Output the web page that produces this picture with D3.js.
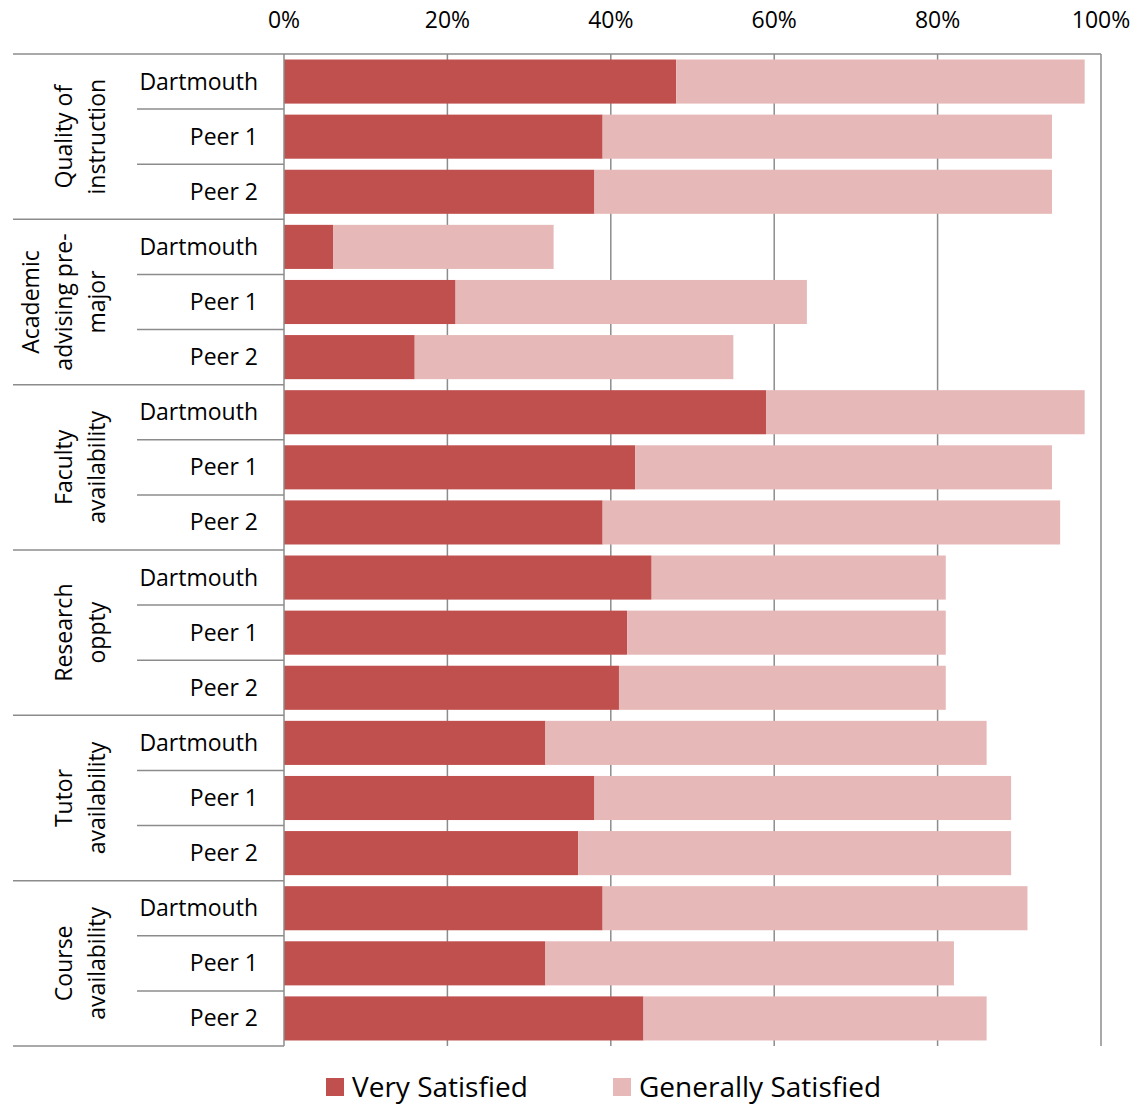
<!DOCTYPE html>
<html><head><meta charset="utf-8">
<script src="https://cdn.jsdelivr.net/npm/d3@7"></script>
<style>body{margin:0;background:#fff}svg{display:block}text{font-family:"Open Sans",sans-serif;fill:#000}</style>
</head><body>
<svg id="c" width="1145" height="1104"></svg>
<script>
const groups = [
  ["Quality of","instruction"],
  ["Academic","advising pre-","major"],
  ["Faculty","availability"],
  ["Research","oppty"],
  ["Tutor","availability"],
  ["Course","availability"]
];
const items = ["Dartmouth","Peer 1","Peer 2"];
const verySatisfied = [48,39,38, 6,21,16, 59,43,39, 45,42,41, 32,38,36, 39,32,44];
const totalSatisfied = [98,94,94, 33,64,55, 98,94,95, 81,81,81, 86,89,89, 91,82,86];
const generallySatisfied = totalSatisfied.map((t,i)=>t-verySatisfied[i]);
const tickValues = [0,20,40,60,80,100];
const seriesNames = ["Very Satisfied","Generally Satisfied"];
const colors = ["#C0504D","#E6B9B8"];

const svg = d3.select("#c");
const L=284, R=1101, T=54, B=1046;
const x = d3.scaleLinear().domain([0,100]).range([L,R]);
const rows = d3.range(18);
const y = d3.scaleBand().domain(rows).range([T,B]).paddingInner(0.2).paddingOuter(0.1);
const step = (B-T)/18;
const gridC="#8c8c8c";

// gridlines
svg.append("g").selectAll("line").data(tickValues.slice(1)).join("line")
  .attr("x1",d=>x(d)).attr("x2",d=>x(d)).attr("y1",T).attr("y2",B)
  .attr("stroke",gridC).attr("stroke-width",1.5);
// top axis line
svg.append("line").attr("x1",L).attr("x2",R).attr("y1",T).attr("y2",T).attr("stroke",gridC).attr("stroke-width",1.5);
// tick labels
svg.append("g").selectAll("text").data(tickValues).join("text")
  .attr("x",d=>x(d)).attr("y",28).attr("text-anchor","middle").attr("font-size",23)
  .text(d=>d+"%");

// bars
const stack = rows.map(i=>({i, v:verySatisfied[i], g:generallySatisfied[i]}));
svg.append("g").selectAll("rect").data(stack).join("rect")
  .attr("x",d=>x(0)).attr("y",d=>y(d.i)).attr("width",d=>x(d.v)-x(0)).attr("height",y.bandwidth())
  .attr("fill",colors[0]);
svg.append("g").selectAll("rect").data(stack).join("rect")
  .attr("x",d=>x(d.v)).attr("y",d=>y(d.i)).attr("width",d=>x(d.v+d.g)-x(d.v)).attr("height",y.bandwidth())
  .attr("fill",colors[1]);

// left axis
svg.append("line").attr("x1",L).attr("x2",L).attr("y1",T).attr("y2",B).attr("stroke",gridC).attr("stroke-width",1.5);
// separators
for(let k=0;k<=18;k++){
  const yy = T + k*step;
  const isGroup = k%3===0;
  svg.append("line").attr("x1",isGroup?13:137).attr("x2",L).attr("y1",yy).attr("y2",yy)
    .attr("stroke",gridC).attr("stroke-width",1.5);
}
// item labels
svg.append("g").selectAll("text").data(rows).join("text")
  .attr("x",258).attr("y",i=>y(i)+y.bandwidth()/2).attr("dy","0.35em")
  .attr("text-anchor","end").attr("font-size",23)
  .text(i=>items[i%3]);
// group labels (last line anchored at the right)
groups.forEach((lines,gi)=>{
  const cy = T + (gi*3+1.5)*step;
  const n = lines.length, lh=33, lastX=97;
  const t = svg.append("text").attr("transform",`translate(${lastX},${cy}) rotate(-90)`)
    .attr("text-anchor","middle").attr("font-size",23);
  lines.forEach((ln,li)=>{
    t.append("tspan").attr("x",0).attr("y",(li-(n-1))*lh).attr("dy","0.35em").text(ln);
  });
});
// legend
const lg = [{n:seriesNames[0],c:colors[0],x:326},{n:seriesNames[1],c:colors[1],x:613}];
lg.forEach(d=>{
  svg.append("rect").attr("x",d.x).attr("y",1078).attr("width",18).attr("height",18).attr("fill",d.c);
  svg.append("text").attr("x",d.x+26).attr("y",1087).attr("dy","0.35em").attr("font-size",28).text(d.n);
});
</script>
</body></html>
